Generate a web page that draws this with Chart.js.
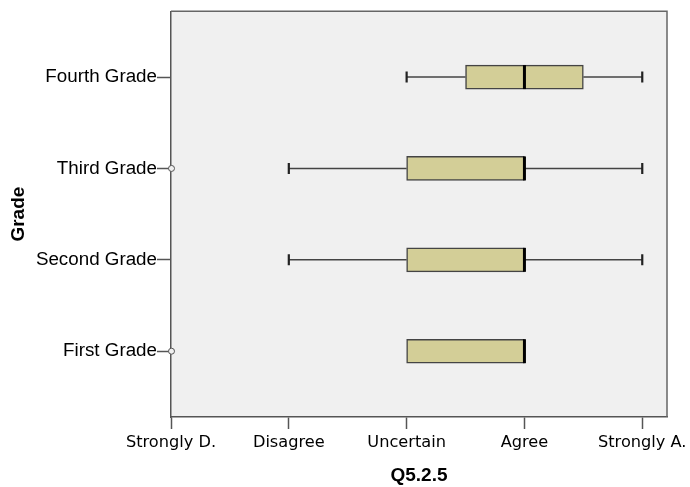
<!DOCTYPE html>
<html>
<head>
<meta charset="utf-8">
<script src="https://cdn.jsdelivr.net/npm/chart.js@4"></script>
<style>
  html, body { margin: 0; padding: 0; background: #fff; }
  #wrap { width: 690px; height: 487px; }
</style>
</head>
<body>
<div id="wrap"><canvas id="boxChart"></canvas></div>
<script>
// categories (bottom to top) and the Likert scale labels
const grades = ["First Grade", "Second Grade", "Third Grade", "Fourth Grade"];
const scaleLabels = ["Strongly D.", "Disagree", "Uncertain", "Agree", "Strongly A."];

// box plot summaries per grade (1 = Strongly D. ... 5 = Strongly A.)
const whiskerLow = [3, 2, 2, 3];
const q1 = [3, 3, 3, 3.5];
const median = [4, 4, 4, 4];
const q3 = [4, 4, 4, 4.5];
const whiskerHigh = [4, 5, 5, 5];
const outliers = [[1], [], [1], []];

const boxFill = "#d3ce97";
const lineDark = "#444444";

// background + whiskers, medians, outliers drawn through the scales
const boxPlotPlugin = {
  id: "boxPlot",
  beforeDraw(chart) {
    const { ctx, chartArea: a } = chart;
    ctx.save();
    ctx.fillStyle = "#f0f0f0";
    ctx.fillRect(a.left, a.top, a.right - a.left, a.bottom - a.top);
    ctx.restore();
  },
  beforeDatasetsDraw(chart) {
    const { ctx } = chart;
    const x = chart.scales.x, y = chart.scales.y;
    ctx.save();
    grades.forEach((g, i) => {
      const yp = y.getPixelForValue(i + 1);
      const lo = x.getPixelForValue(whiskerLow[i]);
      const hi = x.getPixelForValue(whiskerHigh[i]);
      const b1 = x.getPixelForValue(q1[i]);
      const b3 = x.getPixelForValue(q3[i]);
      // whisker stems
      ctx.lineWidth = 1.5;
      ctx.strokeStyle = lineDark;
      ctx.beginPath();
      if (lo < b1) { ctx.moveTo(lo, yp); ctx.lineTo(b1, yp); }
      if (hi > b3) { ctx.moveTo(b3, yp); ctx.lineTo(hi, yp); }
      ctx.stroke();
      // caps
      ctx.lineWidth = 2.2;
      ctx.strokeStyle = "#222";
      ctx.beginPath();
      if (lo < b1) { ctx.moveTo(lo, yp - 5.5); ctx.lineTo(lo, yp + 5.5); }
      if (hi > b3) { ctx.moveTo(hi, yp - 5.5); ctx.lineTo(hi, yp + 5.5); }
      ctx.stroke();
    });
    ctx.restore();
  },
  afterDatasetsDraw(chart) {
    const { ctx, chartArea: a } = chart;
    const x = chart.scales.x, y = chart.scales.y;
    ctx.save();
    grades.forEach((g, i) => {
      const yp = y.getPixelForValue(i + 1);
      const m = x.getPixelForValue(median[i]);
      ctx.strokeStyle = "#000";
      ctx.lineWidth = 3;
      ctx.beginPath();
      ctx.moveTo(m, yp - 12); ctx.lineTo(m, yp + 12);
      ctx.stroke();
      outliers[i].forEach(v => {
        ctx.strokeStyle = "#555";
        ctx.lineWidth = 1;
        ctx.fillStyle = "#f0f0f0";
        ctx.beginPath();
        ctx.arc(x.getPixelForValue(v) + 0.5, yp, 3, 0, Math.PI * 2);
        ctx.fill();
        ctx.stroke();
      });
    });
    // frame on top and right
    ctx.strokeStyle = "#666";
    ctx.lineWidth = 1.5;
    ctx.beginPath();
    ctx.moveTo(a.left, a.top); ctx.lineTo(a.right, a.top); ctx.lineTo(a.right, a.bottom);
    ctx.stroke();
    ctx.restore();
  }
};

new Chart(document.getElementById("boxChart"), {
  type: "bar",
  data: {
    datasets: [{
      data: grades.map((g, i) => ({ x: [q1[i], q3[i]], y: i + 1 })),
      backgroundColor: boxFill,
      borderColor: lineDark,
      borderWidth: 1.5,
      borderSkipped: false,
      barThickness: 24
    }]
  },
  options: {
    indexAxis: "y",
    responsive: true,
    maintainAspectRatio: false,
    animation: false,
    layout: { padding: { top: 8, right: 23, left: 0, bottom: 0 } },
    plugins: { legend: { display: false }, tooltip: { enabled: false } },
    scales: {
      x: {
        type: "linear",
        min: 1,
        max: 5.21,
        afterBuildTicks: s => { s.ticks = scaleLabels.map((_, i) => ({ value: i + 1 })); },
        afterFit: s => { s.height = 70; s.paddingRight = 0; s.paddingLeft = 0; },
        ticks: {
          autoSkip: false,
          maxRotation: 0,
          padding: 4,
          color: "#000",
          font: { family: "DejaVu Sans", size: 16.2 },
          callback: v => scaleLabels[v - 1]
        },
        grid: { drawOnChartArea: false, drawTicks: true, tickLength: 12, tickColor: "#555", tickWidth: 1.5 },
        border: { display: true, color: "#555", width: 1.5 },
        title: {
          display: true,
          text: "Q5.2.5",
          color: "#000",
          padding: { top: 5, bottom: 0 },
          font: { family: "Liberation Sans", size: 19, weight: "bold" }
        }
      },
      y: {
        type: "linear",
        offset: false,
        min: 0.28,
        max: 4.72,
        afterBuildTicks: s => { s.ticks = grades.map((_, i) => ({ value: i + 1 })); },
        afterFit: s => { s.width = 171; },
        ticks: {
          autoSkip: false,
          padding: 0,
          color: "#000",
          font: { family: "Liberation Sans", size: 18.8 },
          callback: v => grades[v - 1]
        },
        grid: { offset: false, drawOnChartArea: false, drawTicks: true, tickLength: 14, tickColor: "#555", tickWidth: 1.5 },
        border: { display: true, color: "#555", width: 1.5 },
        title: {
          display: true,
          text: "Grade",
          color: "#000",
          padding: { top: 7, bottom: 0 },
          font: { family: "Liberation Sans", size: 19, weight: "bold" }
        }
      }
    }
  },
  plugins: [boxPlotPlugin]
});
</script>
</body>
</html>
